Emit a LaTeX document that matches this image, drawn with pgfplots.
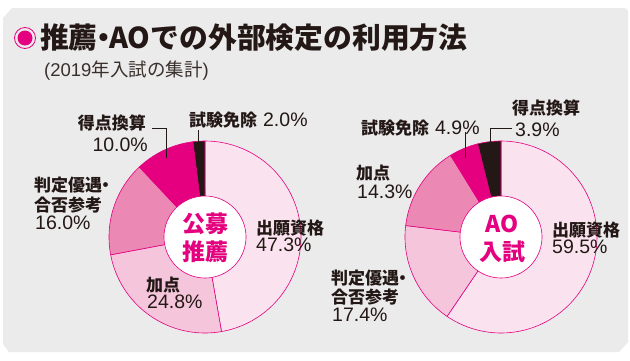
\documentclass[border=0pt]{standalone}
\usepackage{pgfplots}
\pgfplotsset{compat=1.18}
\usepackage{fontspec}
\setmainfont{Noto Sans CJK JP}
\newfontfamily\numfont{Liberation Sans}
\definecolor{mag}{HTML}{E4007F}
\definecolor{pk1}{HTML}{FAE3EE}
\definecolor{pk2}{HTML}{F5C6DB}
\definecolor{pk3}{HTML}{EC88B4}
\definecolor{blk}{HTML}{231815}
\definecolor{panel}{HTML}{EBEBEB}
\definecolor{txt}{HTML}{231815}
% #1 cx, #2 cy, #3 cumulative start (%), #4 value (%), #5 total, #6 colour
\newcommand{\slice}[6]{%
  \addplot[fill=#6, draw=mag, line width=0.6pt, samples=80, variable=\t,
    domain=90-360*(#3+#4)/#5:90-360*#3/#5]
    ({#1+96*cos(\t)},{#2+96*sin(\t)}) -- (axis cs:#1,#2) -- cycle;}
\newcommand{\hole}[2]{%
  \addplot[fill=white, draw=mag, line width=0.6pt, samples=120, variable=\t, domain=0:360]
    ({#1+41*cos(\t)},{#2+41*sin(\t)}) -- cycle;}
\newcommand{\dotc}{\kern-0.3em・\kern-0.3em}
\tikzset{
  lab/.style={anchor=west, inner sep=0pt, text=txt, font=\bfseries\fontsize{17}{20}\selectfont},
  pct/.style={anchor=west, inner sep=0pt, text=txt, font=\numfont\fontsize{19.5}{22}\selectfont},
  ctr/.style={inner sep=0pt, text=mag, font=\bfseries\fontsize{23}{26}\selectfont},
  lead/.style={draw=txt, line width=0.6pt}
}
\begin{document}
\begin{tikzpicture}
\begin{axis}[scale only axis, width=630pt, height=360pt,
  xmin=0, xmax=630, ymin=0, ymax=360, hide axis, clip=false]
% background and panel
\fill[white] (axis cs:0,0) rectangle (axis cs:630,360);
\fill[panel] (axis cs:3,342) -- (axis cs:12,352) -- (axis cs:625,352) -- (axis cs:628,349)
  -- (axis cs:628,18) -- (axis cs:619,8) -- (axis cs:9,8) -- (axis cs:3,16) -- cycle;
% title
\draw[mag, line width=0.8pt] (axis cs:25,322) circle[radius=10.5pt];
\fill[mag] (axis cs:25,322) circle[radius=7.5pt];
\node[anchor=west, inner sep=0pt, text=txt, font=\bfseries\fontsize{28.8}{30}\selectfont]
  at (axis cs:40,322) {推薦\dotc AOでの外部検定の利用方法};
\node[anchor=west, inner sep=0pt, text=txt!90!white, font=\fontsize{18.5}{20}\selectfont]
  at (axis cs:44,289) {{\numfont (2019}年入試の集計{\numfont )}};
% left donut: 公募推薦
\slice{205}{123}{0}{47.3}{100.1}{pk1}
\slice{205}{123}{47.3}{24.8}{100.1}{pk2}
\slice{205}{123}{72.1}{16.0}{100.1}{pk3}
\slice{205}{123}{88.1}{10.0}{100.1}{mag}
\slice{205}{123}{98.1}{2.0}{100.1}{blk}
\hole{205}{123}
% right donut: AO入試
\slice{501}{123}{0}{59.5}{100}{pk1}
\slice{501}{123}{59.5}{17.4}{100}{pk2}
\slice{501}{123}{76.9}{14.3}{100}{pk3}
\slice{501}{123}{91.2}{4.9}{100}{mag}
\slice{501}{123}{96.1}{3.9}{100}{blk}
\hole{501}{123}
% leaders
\draw[lead] (axis cs:152,232) -- (axis cs:166,232) -- (axis cs:166,202);
\draw[lead] (axis cs:198,230) -- (axis cs:198,214);
\draw[lead] (axis cs:465,228) -- (axis cs:465,202);
\draw[lead] (axis cs:512,232) -- (axis cs:490,232) -- (axis cs:490,218);
% centre labels
\node[ctr] at (axis cs:205,136) {公募};
\node[ctr] at (axis cs:205,108) {推薦};
\node[ctr] at (axis cs:502,136) {AO};
\node[ctr] at (axis cs:502,108) {入試};
% left labels
\node[lab] at (axis cs:189,240) {試験免除\hspace{0.35em}{\numfont\mdseries\fontsize{19.5}{22}\selectfont 2.0\%}};
\node[lab, anchor=east] at (axis cs:146,237) {得点換算};
\node[pct, anchor=east] at (axis cs:148,215) {10.0\%};
\node[lab] at (axis cs:34,175) {判定優遇\dotc};
\node[lab] at (axis cs:34,155) {合否参考};
\node[pct] at (axis cs:35,137) {16.0\%};
\node[lab] at (axis cs:146,75) {加点};
\node[pct] at (axis cs:147,58) {24.8\%};
\node[lab] at (axis cs:256,132) {出願資格};
\node[pct] at (axis cs:256,115) {47.3\%};
% right labels
\node[lab] at (axis cs:512,252) {得点換算};
\node[pct] at (axis cs:515,230) {3.9\%};
\node[lab] at (axis cs:361,232) {試験免除\hspace{0.35em}{\numfont\mdseries\fontsize{19.5}{22}\selectfont 4.9\%}};
\node[lab] at (axis cs:356,187) {加点};
\node[pct] at (axis cs:357,168) {14.3\%};
\node[lab] at (axis cs:331,82) {判定優遇\dotc};
\node[lab] at (axis cs:331,63) {合否参考};
\node[pct] at (axis cs:332,45) {17.4\%};
\node[lab] at (axis cs:552,130) {出願資格};
\node[pct] at (axis cs:552,113) {59.5\%};
\end{axis}
\end{tikzpicture}
\end{document}
